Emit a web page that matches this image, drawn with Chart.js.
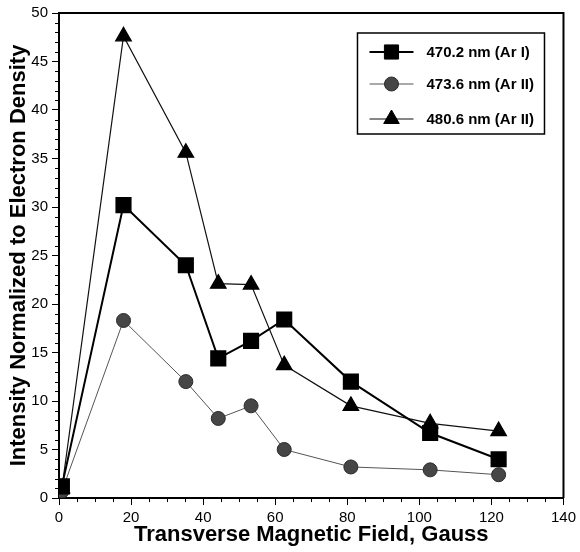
<!DOCTYPE html>
<html>
<head>
<meta charset="utf-8">
<script src="https://cdn.jsdelivr.net/npm/chart.js@4.4.1/dist/chart.umd.min.js"></script>
<style>
  html, body { margin: 0; padding: 0; background: #fff; }
  #wrap { width: 580px; height: 552px; }
</style>
</head>
<body>
<div id="wrap"><canvas id="fieldChart"></canvas></div>
<script>
// transverse field (Gauss) and normalized intensities per emission line
const fieldGauss = [0.8, 17.9, 35.2, 44.2, 53.3, 62.5, 81, 103, 122];
const arI_4702 = [1.2, 30.2, 24.0, 14.4, 16.2, 18.4, 12.0, 6.7, 4.0];
const arII_4736 = [0.7, 18.3, 12.0, 8.2, 9.5, 5.0, 3.2, 2.9, 2.4];
const arII_4806 = [1.0, 47.6, 35.6, 22.1, 22.0, 13.7, 9.5, 7.7, 6.9];

const lineLabels = ["470.2 nm (Ar I)", "473.6 nm (Ar II)", "480.6 nm (Ar II)"];
const xTicks = [0, 20, 40, 60, 80, 100, 120, 140];
const yTicks = [0, 5, 10, 15, 20, 25, 30, 35, 40, 45, 50];

const FONT = "'Liberation Sans', Arial, sans-serif";

function toPoints(ys) {
    return fieldGauss.map((x, i) => ({ x: x, y: ys[i] }));
}

// minor ticks, frame and the boxed legend inside the plot
const framePlugin = {
    id: "frame",
    afterDraw(chart) {
        const ctx = chart.ctx;
        const area = chart.chartArea;
        const xs = chart.scales.x;
        const ys = chart.scales.y;

        ctx.save();
        ctx.strokeStyle = "#000";
        ctx.lineWidth = 1;
        for (let v = 0; v <= 140; v += 5) {
            if (v % 20 === 0) continue;
            const px = Math.round(xs.getPixelForValue(v)) + 0.5;
            ctx.beginPath();
            ctx.moveTo(px, area.bottom);
            ctx.lineTo(px, area.bottom + 4);
            ctx.stroke();
        }
        for (let v = 0; v <= 50; v += 1) {
            if (v % 5 === 0) continue;
            const py = Math.round(ys.getPixelForValue(v)) + 0.5;
            ctx.beginPath();
            ctx.moveTo(area.left, py);
            ctx.lineTo(area.left - 4, py);
            ctx.stroke();
        }

        // top and right edges of the box
        ctx.lineWidth = 2;
        ctx.beginPath();
        ctx.moveTo(area.left, area.top);
        ctx.lineTo(area.right, area.top);
        ctx.lineTo(area.right, area.bottom);
        ctx.stroke();

        // legend
        const bx = area.right - 206, by = area.top + 20, bw = 187, bh = 101;
        ctx.lineWidth = 1.5;
        ctx.strokeRect(bx, by, bw, bh);
        ctx.font = "bold 15px " + FONT;
        ctx.textBaseline = "middle";
        ctx.fillStyle = "#000";
        const rows = [by + 19, by + 51, by + 86];
        chart.data.datasets.forEach((ds, i) => {
            const y = rows[i];
            ctx.strokeStyle = ds.borderColor;
            ctx.lineWidth = ds.borderWidth;
            ctx.beginPath();
            ctx.moveTo(bx + 12, y);
            ctx.lineTo(bx + 56, y);
            ctx.stroke();
            ctx.fillStyle = ds.pointBackgroundColor;
            ctx.strokeStyle = ds.pointBorderColor;
            ctx.lineWidth = 1;
            Chart.helpers.drawPoint(ctx, { pointStyle: ds.pointStyle, radius: ds.pointRadius, borderWidth: 1 }, bx + 34, y);
            ctx.fillStyle = "#000";
            ctx.fillText(ds.label, bx + 69, y + 1);
        });
        ctx.restore();
    }
};

const ctx = document.getElementById("fieldChart").getContext("2d");
new Chart(ctx, {
    type: "scatter",
    data: {
        datasets: [
            {
                label: lineLabels[0],
                data: toPoints(arI_4702),
                showLine: true,
                borderColor: "#000",
                borderWidth: 2,
                pointStyle: "rect",
                pointRadius: 10,
                pointBackgroundColor: "#000",
                pointBorderColor: "#000"
            },
            {
                label: lineLabels[1],
                data: toPoints(arII_4736),
                showLine: true,
                borderColor: "#555",
                borderWidth: 1,
                pointStyle: "circle",
                pointRadius: 7,
                pointBackgroundColor: "#464646",
                pointBorderColor: "#2a2a2a"
            },
            {
                label: lineLabels[2],
                data: toPoints(arII_4806),
                showLine: true,
                borderColor: "#111",
                borderWidth: 1.2,
                pointStyle: "triangle",
                pointRadius: 9,
                pointBackgroundColor: "#000",
                pointBorderColor: "#000"
            }
        ]
    },
    options: {
        responsive: true,
        maintainAspectRatio: false,
        animation: false,
        layout: { padding: { top: 12, right: 12, left: 0, bottom: 0 } },
        plugins: { legend: { display: false }, tooltip: { enabled: false } },
        scales: {
            x: {
                type: "linear",
                min: 0,
                max: 140,
                afterFit: scale => { scale.height = 54; },
                afterBuildTicks: scale => { scale.ticks = xTicks.map(v => ({ value: v })); },
                border: { color: "#000", width: 2 },
                grid: { drawOnChartArea: false, tickLength: 7, tickColor: "#000", tickWidth: 1 },
                ticks: { color: "#000", padding: 4, maxRotation: 0, font: { family: FONT, size: 15 } },
                title: {
                    display: true,
                    text: "Transverse Magnetic Field, Gauss",
                    color: "#000",
                    padding: { top: 0, bottom: 4 },
                    font: { family: FONT, size: 22, weight: "bold" }
                }
            },
            y: {
                type: "linear",
                min: 0,
                max: 50,
                afterFit: scale => { scale.width = 59; },
                afterBuildTicks: scale => { scale.ticks = yTicks.map(v => ({ value: v })); },
                border: { color: "#000", width: 2 },
                grid: { drawOnChartArea: false, tickLength: 7, tickColor: "#000", tickWidth: 1 },
                ticks: { color: "#000", padding: 4, font: { family: FONT, size: 15 } },
                title: {
                    display: true,
                    text: "Intensity Normalized to Electron Density",
                    color: "#000",
                    padding: { top: 6, bottom: 0 },
                    font: { family: FONT, size: 22, weight: "bold" }
                }
            }
        }
    },
    plugins: [framePlugin]
});
</script>
</body>
</html>
